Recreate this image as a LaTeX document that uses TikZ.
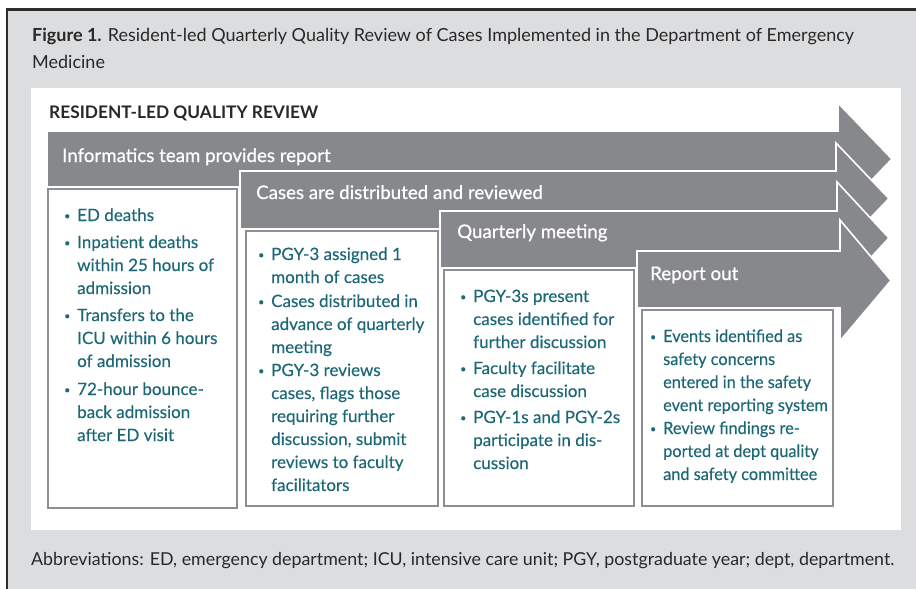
\documentclass[tikz,border=0pt]{standalone}
\usepackage{fontspec}
\setmainfont{Lato}
\newfontfamily\narrowfont[FakeStretch=0.96,FakeBold=0.25]{Lato}
\newfontfamily\listfont[FakeBold=0.25]{Lato}
\newfontfamily\labelfont[FakeBold=0.7]{Lato}
\usepackage{graphicx}

\definecolor{pagegray}{RGB}{220,221,223}
\definecolor{framedark}{RGB}{45,45,45}
\definecolor{arrowgray}{RGB}{135,136,140}
\definecolor{boxgray}{RGB}{140,142,145}
\definecolor{tealtext}{RGB}{28,104,118}
\definecolor{inkgray}{RGB}{40,40,40}

% one process arrow: left x, body top, body bottom, head base x, head top, head bottom, tip x
\newcommand\procarrow[7]{%
  \filldraw[stagearrow] (#1,#2) -- (#4,#2) -- (#4,#5) -- (#7,{(#5+#6)/2})
    -- (#4,#6) -- (#4,#3) -- (#1,#3) -- cycle;}

% bullet column of the lists
\newcommand\bl{\makebox[13pt][l]{\raisebox{0.18ex}{\scalebox{0.62}{\textbullet}}}}

\tikzset{
  stagearrow/.style={fill=arrowgray, draw=white, line width=1.6pt, line join=miter},
  stagebox/.style={draw=boxgray, fill=white, line width=2pt},
  stagelabel/.style={anchor=base west, inner sep=0pt, text=white,
    font=\labelfont\fontsize{18.7}{22}\selectfont},
  listtext/.style={anchor=base west, inner sep=0pt, text=tealtext, align=left,
    font=\listfont\fontsize{17}{23}\selectfont},
}

\begin{document}
\begin{tikzpicture}[x=1pt,y=-1pt]
\useasboundingbox (0,0) rectangle (916,589);

% page frame
\fill[white] (0,0) rectangle (916,589);
\fill[pagegray] (7,9) rectangle (916,589);
\draw[framedark, line width=2.5pt] (7.2,589) -- (7.2,9.5) -- (916,9.5);

% caption (node baseline is that of its last line)
\node[anchor=base west, inner sep=0pt, text=inkgray, align=left,
      font=\fontsize{18}{27}\selectfont] (caption) at (32,68)
  {\textbf{Figure 1.} Resident-led Quarterly Quality Review of Cases Implemented in the Department of Emergency\\Medicine};

% white panel
\fill[white] (31,88) rectangle (901,530);

\node[anchor=base west, inner sep=0pt, text=inkgray,
      font=\bfseries\fontsize{17.3}{20}\selectfont] (paneltitle) at (49,118)
  {RESIDENT-LED QUALITY REVIEW};

% stage arrows, back to front
\procarrow{47}{131}{187}{838}{103}{215}{892}
\procarrow{240}{171}{229}{836}{143}{254}{889}
\procarrow{440}{211}{268}{837}{182}{294}{889}
\procarrow{637}{251}{308}{840}{220}{341}{891}

\node[stagelabel] (lab1) at (62,162) {Informatics team provides report};
\node[stagelabel] (lab2) at (256,199) {Cases are distributed and reviewed};
\node[stagelabel] (lab3) at (457,238) {Quarterly meeting};
\node[stagelabel] (lab4) at (650,280) {Report out};

% content boxes
\draw[stagebox] (48,189) rectangle (237,508);
\draw[stagebox] (246,231) rectangle (438,506);
\draw[stagebox] (444,270) rectangle (634,506);
\draw[stagebox] (642,310) rectangle (833,506);

\node[listtext] (list1) at (64,221) {%
\begin{tabular}[t]{@{}l@{}l@{}}
\bl & ED deaths\\[4pt]
\bl & Inpatient deaths\\
    & within 25 hours of\\
    & admission\\[4pt]
\bl & Transfers to the\\
    & ICU within 6 hours\\
    & of admission\\[5pt]
\bl & 72-hour bounce-\\
    & back admission\\
    & after ED visit
\end{tabular}};

\node[listtext] (list2) at (258,260) {%
\begin{tabular}[t]{@{}l@{}l@{}}
\bl & PGY-3 assigned 1\\
    & month of cases\\[1pt]
\bl & Cases distributed in\\
    & advance of quarterly\\
    & meeting\\
\bl & PGY-3 reviews\\
    & cases, flags those\\
    & requiring further\\
    & discussion, submit\\
    & reviews to faculty\\
    & facilitators
\end{tabular}};

\node[listtext] (list3) at (460,302) {%
\begin{tabular}[t]{@{}l@{}l@{}}
\bl & PGY-3s present\\
    & cases identified for\\
    & further discussion\\[3pt]
\bl & Faculty facilitate\\
    & case discussion\\[3pt]
\bl & PGY-1s and PGY-2s\\
    & participate in dis-\\
    & cussion
\end{tabular}};

\node[listtext, font=\narrowfont\fontsize{17}{23}\selectfont] (list4) at (650,342) {%
\begin{tabular}[t]{@{}l@{}l@{}}
\bl & Events identified as\\
    & safety concerns\\
    & entered in the safety\\
    & event reporting system\\
\bl & Review findings re-\\
    & ported at dept quality\\
    & and safety committee
\end{tabular}};

% footnote
\node[anchor=base west, inner sep=0pt, text=inkgray,
      font=\fontsize{17.8}{20}\selectfont] (abbrev) at (31,565)
  {Abbreviations: ED, emergency department; ICU, intensive care unit; PGY, postgraduate year; dept, department.};
\end{tikzpicture}
\end{document}
